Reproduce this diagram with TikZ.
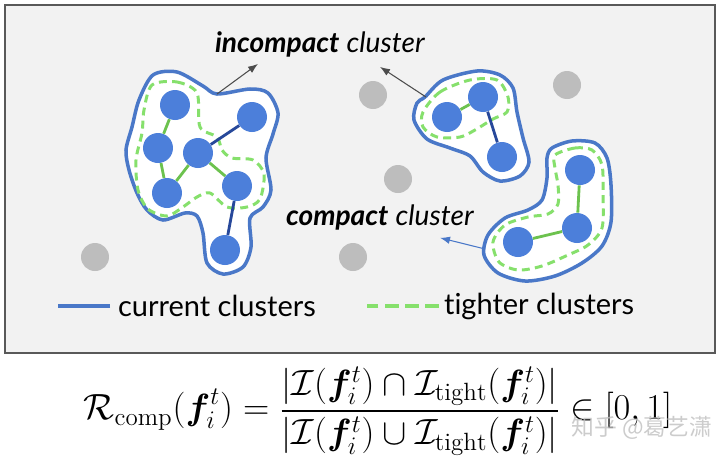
\documentclass[tikz,border=0pt]{standalone}
\usepackage{amsmath,amssymb,bm}
\usepackage{fontspec}
\newfontfamily\lato[Ligatures=NoCommon]{Lato}
\newfontfamily\cjk{Noto Sans CJK SC}
\usetikzlibrary{positioning,arrows.meta,calc}
\definecolor{panelbg}{HTML}{F2F2F2}
\definecolor{ptblue}{HTML}{4C7FDA}
\definecolor{hullblue}{HTML}{4A78C8}
\definecolor{tightgreen}{HTML}{86E06C}
\definecolor{edgegreen}{HTML}{6CC24E}
\definecolor{edgeblue}{HTML}{27489A}
\definecolor{ptgray}{HTML}{BDBDBD}
\tikzset{
  pt/.style={circle,fill=ptblue,inner sep=0pt,minimum size=0.6cm},
  noise/.style={circle,fill=ptgray,inner sep=0pt,minimum size=0.56cm},
  hull/.style={draw=hullblue,line width=2pt,fill=white},
  tight/.style={draw=tightgreen,line width=1.7pt,dash pattern=on 4.5pt off 3pt},
  gedge/.style={edgegreen,line width=1.6pt},
  bedge/.style={edgeblue,line width=1.6pt},
  lbl/.style={font=\lato\fontsize{16}{18}\selectfont,inner sep=1pt},
  ptr/.style={-{Latex[length=2mm]},line width=0.6pt},
}

\begin{document}
\begin{tikzpicture}[x=0.02cm,y=-0.02cm]
\useasboundingbox (0,0) rectangle (720,467);
% panel
\draw[fill=panelbg,draw=black!65,line width=0.9pt] (5,5) rectangle (715,353);
% current clusters (solid hulls)
\draw[hull] plot[smooth cycle] coordinates {(153,75) (177,72) (203,86) (217,94) (250,89) (268,93) (278,113) (273,134) (266,158) (271,190) (263,207) (250,218) (251,247) (243,267) (223,274) (207,263) (203,233) (197,216) (185,213) (163,220) (147,210) (137,193) (129,170) (126,150) (132,127) (139,100)};
\draw[hull] plot[smooth cycle] coordinates {(425,97) (443,80) (477,71) (500,75) (513,88) (517,112) (523,138) (529,162) (520,176) (500,181) (483,172) (470,156) (450,148) (427,139) (414,120) (417,103)};
\draw[hull] plot[smooth cycle] coordinates {(552,148) (572,141) (595,143) (607,158) (611,185) (611,222) (602,246) (582,263) (555,276) (525,281) (498,273) (484,255) (488,235) (505,218) (528,210) (542,200) (547,178) (547,158)};
% tighter clusters (dashed)
\draw[tight] plot[smooth cycle] coordinates {(152,85) (177,82) (197,93) (200,127) (217,137) (222,150) (232,158) (253,160) (264,174) (260,199) (247,207) (227,207) (210,193) (197,197) (183,207) (167,216) (148,209) (138,190) (136,160) (142,133) (144,110)};
\draw[tight] plot[smooth cycle] coordinates {(423,112) (440,92) (470,80) (497,80) (508,97) (507,112) (493,119) (475,130) (460,137) (437,137) (423,127)};
\draw[tight] plot[smooth cycle] coordinates {(555,155) (575,148) (592,150) (602,165) (603,195) (602,228) (588,245) (568,255) (542,266) (518,270) (499,262) (493,242) (505,225) (528,217) (548,214) (558,204) (558,185) (555,168)};
% points
\node[pt] (a) at (175,105) {};
\node[pt] (b) at (252,117) {};
\node[pt] (c) at (158,148) {};
\node[pt] (d) at (198,153) {};
\node[pt] (e) at (167,193) {};
\node[pt] (f) at (237,186) {};
\node[pt] (g) at (225,250) {};
\node[pt] (h) at (447,117) {};
\node[pt] (i) at (483,97) {};
\node[pt] (j) at (502,157) {};
\node[pt] (k) at (580,170) {};
\node[pt] (l) at (577,228) {};
\node[pt] (m) at (518,242) {};
\foreach \s/\t in {a/c,c/e,e/d,d/f,h/i,k/l,l/m}
  \draw[gedge] (\s) -- (\t);
\foreach \s/\t in {d/b,f/g,i/j}
  \draw[bedge] (\s) -- (\t);
% noise points
\node[noise] (n1) at (95,257) {};
\node[noise] (n2) at (353,257) {};
\node[noise] (n3) at (398,179) {};
\node[noise] (n4) at (373,95) {};
\node[noise] (n5) at (567,85) {};
% labels
\node[lbl] (incl) at (320,44) {\textbf{\textit{incompact}} \textit{cluster}};
\node[lbl] (cmpl) at (380,217) {\textbf{\textit{compact}} \textit{cluster}};
\coordinate (lhull) at (217,94);
\coordinate (rhull) at (426,97);
\coordinate (bhull) at (485,249);
\coordinate (incl-a) at ($(incl.south)+(-62,5)$);
\coordinate (incl-b) at ($(incl.south)+(60,8)$);
\coordinate (cmpl-a) at ($(cmpl.south east)+(-36,6)$);
\draw[ptr,black!70] (lhull) -- (incl-a);
\draw[ptr,black!70] (rhull) -- (incl-b);
\draw[ptr,hullblue] (bhull) -- (cmpl-a);
% legend
\node[lbl,anchor=west,font=\lato\fontsize{16.5}{18}\selectfont] (lgcur) at (116,306) {current clusters};
\node[lbl,anchor=west,font=\lato\fontsize{16.5}{18}\selectfont] (lgtig) at (442,306) {tighter clusters};
\draw[hullblue,line width=2.8pt] ($(lgcur.west)+(-6,0)$) -- ++(-52,0);
\draw[tightgreen,line width=2.8pt,dash pattern=on 8pt off 3.5pt] ($(lgtig.west)+(-3,0)$) -- ++(-72,0);
% formula
\node (eq) at (378,411) {\fontsize{20.3}{25}\selectfont$\displaystyle \mathcal{R}_{\mathrm{comp}}(\bm{f}_i^t)=\frac{\left|\mathcal{I}(\bm{f}_i^t)\cap\mathcal{I}_{\mathrm{tight}}(\bm{f}_i^t)\right|}{\left|\mathcal{I}(\bm{f}_i^t)\cup\mathcal{I}_{\mathrm{tight}}(\bm{f}_i^t)\right|}\in[0,1]$};
\node[font=\cjk\fontsize{13}{15}\selectfont,text=black!25,opacity=0.8] (wm) at (642,428) {知乎 @葛艺潇};
\end{tikzpicture}
\end{document}
